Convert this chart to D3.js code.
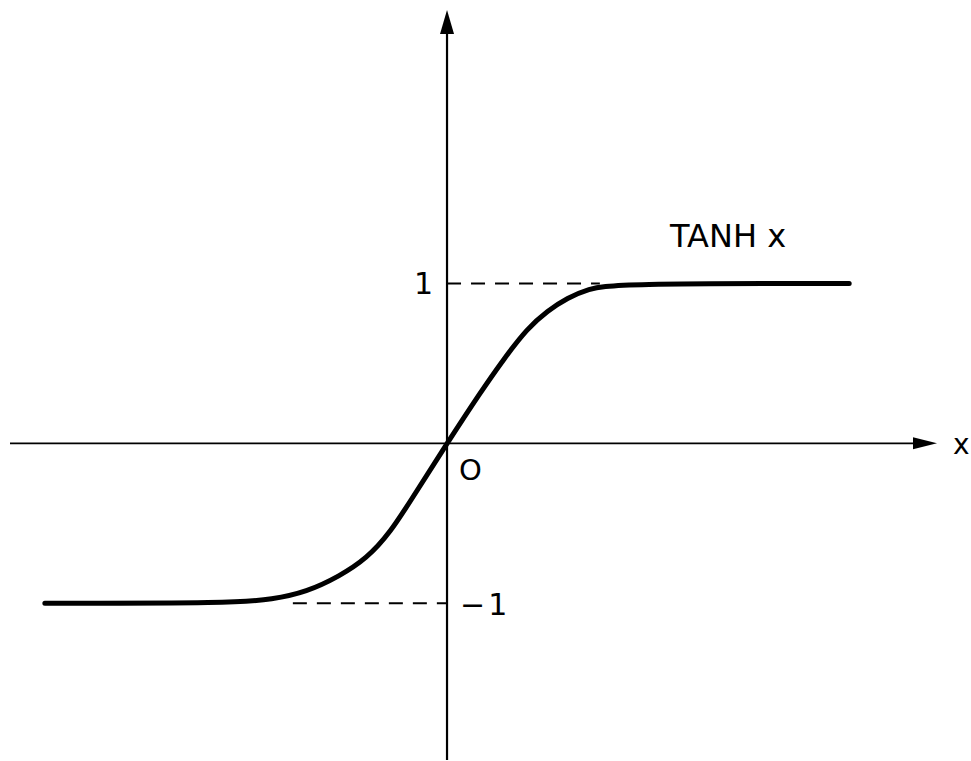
<!DOCTYPE html>
<html>
<head>
<meta charset="utf-8">
<script src="https://cdn.jsdelivr.net/npm/d3@7"></script>
<style>
  body { margin: 0; background: #fff; }
  text { font-family: "DejaVu Sans", sans-serif; fill: #000; }
</style>
</head>
<body>
<svg id="chart" width="971" height="761"></svg>
<script>
// curve (x in arbitrary units, y in units of the asymptote)
var curveX = [-6.0, -3.2, -2.6, -2.1, -1.6, -1.2, -0.85, -0.5, 0, 0.5, 0.85, 1.2, 1.5, 1.8, 2.1, 2.5, 6.0];
var curveY = [-1.0, -1.0, -0.975, -0.93, -0.83, -0.72, -0.56, -0.33, 0, 0.32, 0.53, 0.72, 0.83, 0.91, 0.965, 1.0, 1.0];

// dashed guide lines at the asymptotes
var guideLevels = [1, -1];
var guideFrom = [0, -2.30];
var guideTo = [2.28, 0];

var curveLabel = "TANH x";
var tickLabels = ["1", "−1"];
var originLabel = "O";
var xAxisLabel = "x";

var svg = d3.select('#chart');

var x = d3.scaleLinear().domain([-6.52, 7.31]).range([10, 937]);
var y = d3.scaleLinear().domain([-1.98, 2.71]).range([760, 10]);

// axes
svg.append('line')
  .attr('x1', x(-6.52)).attr('x2', x(7.31) - 20)
  .attr('y1', y(0)).attr('y2', y(0))
  .style('stroke', '#000').style('stroke-width', 1.8);

svg.append('line')
  .attr('x1', x(0)).attr('x2', x(0))
  .attr('y1', y(-1.98)).attr('y2', y(2.71) + 20)
  .style('stroke', '#000').style('stroke-width', 2.2);

// arrow heads
svg.append('polygon')
  .attr('points', [[x(7.31), y(0)], [x(7.31) - 24, y(0) - 6], [x(7.31) - 24, y(0) + 6]].join(' '))
  .style('fill', '#000');

svg.append('polygon')
  .attr('points', [[x(0), y(2.71)], [x(0) - 7, y(2.71) + 24], [x(0) + 7, y(2.71) + 24]].join(' '))
  .style('fill', '#000');

// dashed guides
svg.selectAll('line.guide')
  .data(guideLevels)
  .enter().append('line')
  .attr('class', 'guide')
  .attr('x1', function(d, i) { return x(guideFrom[i]); })
  .attr('x2', function(d, i) { return x(guideTo[i]); })
  .attr('y1', function(d) { return y(d); })
  .attr('y2', function(d) { return y(d); })
  .style('stroke', '#000')
  .style('stroke-width', 2)
  .style('stroke-dasharray', '14,10');

// the curve
var pts = curveX.map(function(d, i) { return [d, curveY[i]]; });
var line = d3.line()
  .x(function(d) { return x(d[0]); })
  .y(function(d) { return y(d[1]); })
  .curve(d3.curveBasis);

svg.append('path')
  .datum(pts)
  .attr('d', line)
  .style('fill', 'none')
  .style('stroke', '#000')
  .style('stroke-width', 5)
  .style('stroke-linecap', 'round')
  .style('stroke-linejoin', 'round');

// labels
svg.append('text')
  .attr('x', 670).attr('y', 247)
  .style('font-size', '32px')
  .text(curveLabel);

svg.append('text')
  .attr('x', x(0) - 14).attr('y', y(1) + 11)
  .attr('text-anchor', 'end')
  .style('font-size', '30px')
  .text(tickLabels[0]);

svg.append('text')
  .attr('x', x(0) + 13).attr('y', y(-1) + 12)
  .style('font-size', '30px')
  .style('letter-spacing', '3px')
  .text(tickLabels[1]);

svg.append('text')
  .attr('x', x(0) + 12).attr('y', y(0) + 37)
  .style('font-size', '29px')
  .text(originLabel);

svg.append('text')
  .attr('x', 953).attr('y', y(0) + 11)
  .style('font-size', '28px')
  .text(xAxisLabel);
</script>
</body>
</html>
